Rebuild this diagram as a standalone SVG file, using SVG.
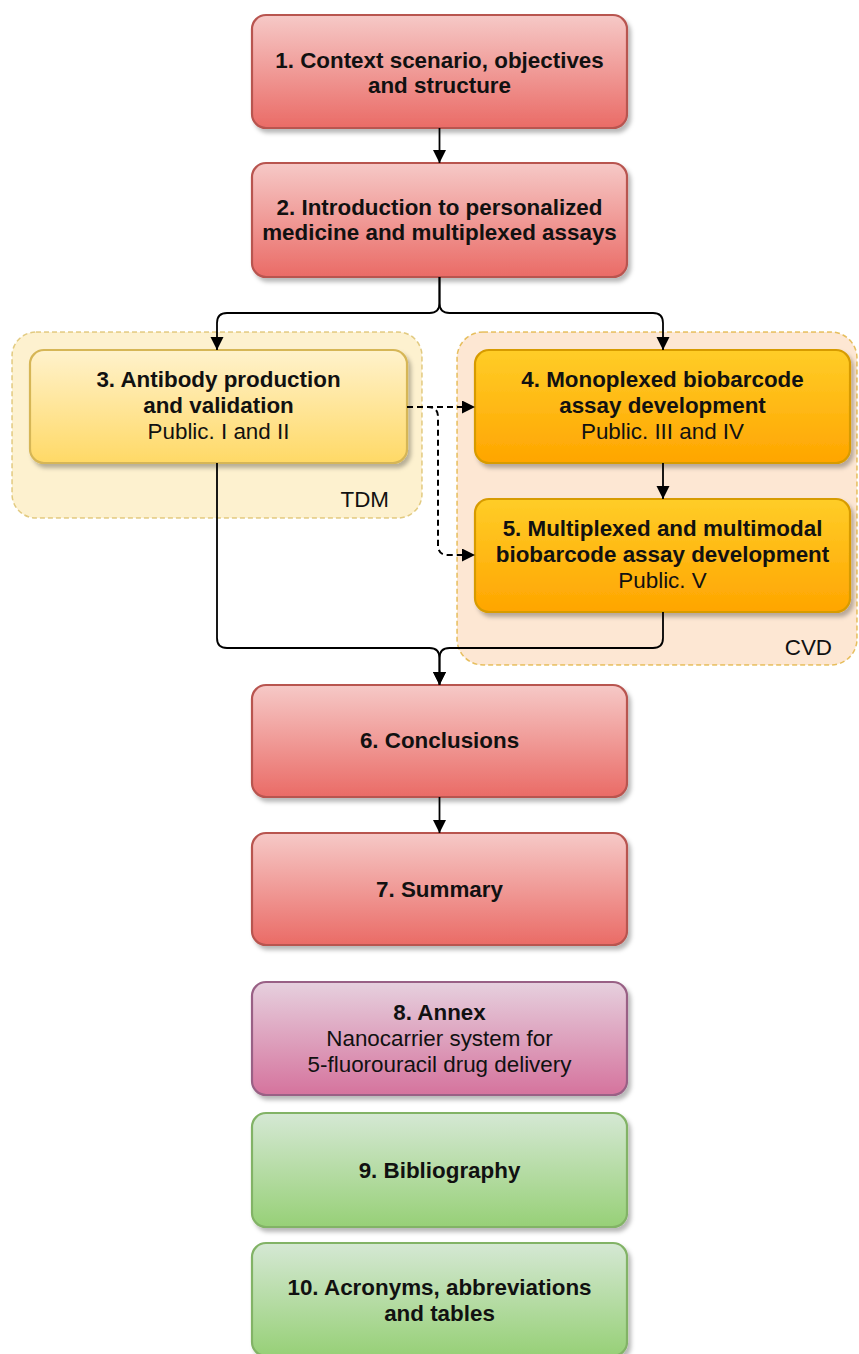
<svg xmlns="http://www.w3.org/2000/svg" width="859" height="1354" viewBox="0 0 859 1354">
<style>
text{font-family:"Liberation Sans",Arial,Helvetica,sans-serif;font-size:22.4px;fill:#111;text-anchor:middle}
.b{font-weight:bold}
.lbl{text-anchor:end}
.box{stroke-width:2.2;filter:url(#sh)}
.red{fill:url(#gRed);stroke:#b85450}
.yel{fill:url(#gYel);stroke:#d6b656}
.org{fill:url(#gOrg);stroke:#d79b00}
.pur{fill:url(#gPur);stroke:#996185}
.grn{fill:url(#gGrn);stroke:#82b366}
.edge{fill:none;stroke:#000;stroke-width:1.8}
.dash{stroke-dasharray:6 4;stroke-width:2}
</style>
<defs>
<filter id="sh" x="-10%" y="-10%" width="125%" height="130%">
<feDropShadow dx="3" dy="4" stdDeviation="2" flood-color="#000" flood-opacity="0.28"/>
</filter>
<linearGradient id="gRed" x1="0" y1="0" x2="0" y2="1"><stop offset="0" stop-color="#f6c9c7"/><stop offset="1" stop-color="#ea6b66"/></linearGradient>
<linearGradient id="gYel" x1="0" y1="0" x2="0" y2="1"><stop offset="0" stop-color="#fff2cc"/><stop offset="1" stop-color="#ffd966"/></linearGradient>
<linearGradient id="gOrg" x1="0" y1="0" x2="0" y2="1"><stop offset="0" stop-color="#ffcd28"/><stop offset="1" stop-color="#ffa500"/></linearGradient>
<linearGradient id="gPur" x1="0" y1="0" x2="0" y2="1"><stop offset="0" stop-color="#e6d0de"/><stop offset="1" stop-color="#d5739d"/></linearGradient>
<linearGradient id="gGrn" x1="0" y1="0" x2="0" y2="1"><stop offset="0" stop-color="#d5e8d4"/><stop offset="1" stop-color="#97d077"/></linearGradient>
<marker id="ar" markerUnits="userSpaceOnUse" markerWidth="14" markerHeight="14" refX="13" refY="6.5" orient="auto">
<path d="M0,0 L13,6.5 L0,13 Z" fill="#000"/>
</marker>
</defs>

<g id="container-tdm">
<rect x="12" y="332" width="410" height="186" rx="24" fill="#fdf1cf" stroke="#d6b656" stroke-opacity="0.7" stroke-width="1.5" stroke-dasharray="5 3"/>
<text class="lbl" x="389" y="507">TDM</text>
</g>
<g id="container-cvd">
<rect x="457" y="332" width="400" height="333" rx="26" fill="#fde7d3" stroke="#d79b00" stroke-opacity="0.6" stroke-width="1.5" stroke-dasharray="5 3"/>
<text class="lbl" x="832" y="655">CVD</text>
</g>

<g id="node1"><rect class="box red" x="252" y="15" width="375" height="113" rx="14"/>
<text class="b" x="439.5" y="68">1. Context scenario, objectives</text>
<text class="b" x="439.5" y="93">and structure</text></g>

<g id="node2"><rect class="box red" x="252" y="163" width="375" height="114" rx="14"/>
<text class="b" x="439.5" y="215">2. Introduction to personalized</text>
<text class="b" x="439.5" y="240">medicine and multiplexed assays</text></g>

<g id="node3"><rect class="box yel" x="30" y="350" width="377" height="113" rx="14"/>
<text class="b" x="218.5" y="387">3. Antibody production</text>
<text class="b" x="218.5" y="413">and validation</text>
<text x="218.5" y="439">Public. I and II</text></g>

<g id="node4"><rect class="box org" x="475" y="350" width="375" height="113" rx="14"/>
<text class="b" x="662.5" y="387">4. Monoplexed biobarcode</text>
<text class="b" x="662.5" y="413">assay development</text>
<text x="662.5" y="439">Public. III and IV</text></g>

<g id="node5"><rect class="box org" x="475" y="499" width="375" height="113" rx="14"/>
<text class="b" x="662.5" y="536">5. Multiplexed and multimodal</text>
<text class="b" x="662.5" y="562">biobarcode assay development</text>
<text x="662.5" y="588">Public. V</text></g>

<g id="node6"><rect class="box red" x="252" y="685" width="375" height="112" rx="14"/>
<text class="b" x="439.5" y="748">6. Conclusions</text></g>

<g id="node7"><rect class="box red" x="252" y="833" width="375" height="112" rx="14"/>
<text class="b" x="439.5" y="897">7. Summary</text></g>

<g id="node8"><rect class="box pur" x="252" y="982" width="375" height="113" rx="14"/>
<text class="b" x="439.5" y="1020">8. Annex</text>
<text x="439.5" y="1046">Nanocarrier system for</text>
<text x="439.5" y="1072">5-fluorouracil drug delivery</text></g>

<g id="node9"><rect class="box grn" x="252" y="1113" width="375" height="114" rx="14"/>
<text class="b" x="439.5" y="1178">9. Bibliography</text></g>

<g id="node10"><rect class="box grn" x="252" y="1243" width="375" height="113" rx="14"/>
<text class="b" x="439.5" y="1295">10. Acronyms, abbreviations</text>
<text class="b" x="439.5" y="1321">and tables</text></g>

<g id="connectors">
<path class="edge" d="M439.5,128 V163" marker-end="url(#ar)"/>
<path class="edge" d="M439.5,277 V303 Q439.5,313 429.5,313 H227 Q217,313 217,323 V350" marker-end="url(#ar)"/>
<path class="edge" d="M439.5,277 V303 Q439.5,313 449.5,313 H653 Q663,313 663,323 V350" marker-end="url(#ar)"/>
<path class="edge" d="M663,463 V499" marker-end="url(#ar)"/>
<path class="edge" d="M217,463 V638 Q217,648 227,648 H429.5 Q439.5,648 439.5,658 V685" marker-end="url(#ar)"/>
<path class="edge" d="M663,612 V638 Q663,648 653,648 H449.5 Q439.5,648 439.5,658 V685" marker-end="url(#ar)"/>
<path class="edge" d="M439.5,797 V833" marker-end="url(#ar)"/>
<path class="edge dash" d="M407,407 H475" marker-end="url(#ar)"/>
<path class="edge dash" d="M407,407 H428 Q438,407 438,417 V545 Q438,555 448,555 H475" marker-end="url(#ar)"/>
</g>
</svg>
